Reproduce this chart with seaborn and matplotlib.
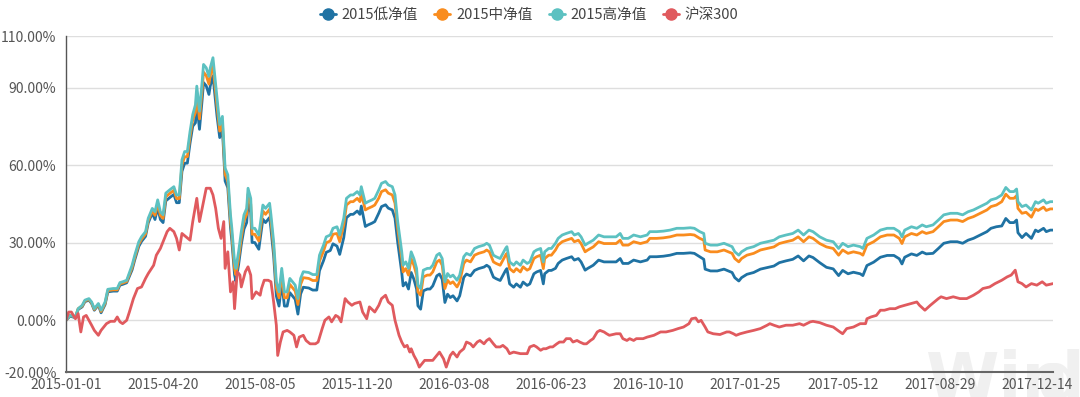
import matplotlib
matplotlib.use("Agg")
import matplotlib.pyplot as plt
from matplotlib.lines import Line2D
import seaborn as sns
import pandas as pd

# ---------------- data (trading-day index, cumulative return %) ----------------
series_names = ["2015低净值", "2015中净值", "2015高净值", "沪深300"]
colors = ["#1f72a3", "#f98c1e", "#5cc1c1", "#e05a5e"]

fund_day = [0, 3, 7, 9, 12, 14, 17, 19, 21, 24, 26, 29, 31, 35, 38, 40, 42, 45, 49, 51, 54, 56, 59, 61, 64,
            66, 68, 70, 72, 74, 77, 80, 82, 84, 86, 88, 90, 92, 94, 96, 97, 99, 101, 102, 104, 106, 107, 109,
            110, 112, 114, 116, 117, 118, 120, 122, 123, 125, 126, 128, 130, 132, 134, 135, 137, 138, 140, 143,
            144, 146, 148, 151, 152, 154, 156, 158, 160, 162, 164, 166, 170, 172, 174, 176, 180, 183, 186, 188,
            191, 193, 196, 198, 201, 203, 206, 208, 211, 213, 216, 218, 219, 222, 224, 227, 229, 232, 234, 237,
            239, 242, 244, 246, 248, 249, 250, 252, 254, 256, 258, 260, 261, 263, 265, 268, 270, 272, 275, 277,
            279, 281, 283, 285, 287, 290, 292, 295, 297, 300, 303, 306, 310, 312, 314, 317, 319, 322, 326, 327,
            329, 332, 334, 337, 339, 342, 344, 347, 349, 352, 354, 355, 358, 360, 363, 365, 368, 371, 375, 377,
            380, 382, 385, 387, 391, 395, 399, 403, 408, 411, 413, 417, 421, 426, 431, 433, 438, 443, 448, 453,
            458, 463, 466, 470, 473, 474, 478, 483, 488, 494, 496, 499, 501, 505, 510, 515, 520, 525, 529, 534,
            539, 543, 547, 551, 554, 559, 564, 569, 573, 576, 580, 584, 589, 591, 594, 599, 604, 609, 614, 618,
            620, 622, 627, 631, 635, 638, 643, 647, 651, 656, 661, 665, 669, 673, 678, 683, 686, 690, 694, 697,
            700, 703, 705, 706, 709, 712, 716, 719, 721, 725, 727, 730, 732]

high_nav = [0.0, 1.9, 1.3, 4.5, 5.8, 7.8, 8.4, 7.1, 4.5, 6.5, 3.9, 7.1, 12.0, 12.3, 12.3, 14.6, 14.9, 15.5, 21.3,
            25.2, 30.4, 32.3, 34.3, 39.5, 43.3, 42.0, 46.6, 42.0, 40.8, 49.2, 50.5, 51.7, 48.5, 48.5, 62.1, 65.3,
            65.3, 73.1, 79.6, 83.4, 90.6, 80.9, 92.5, 99.0, 97.7, 94.4, 97.7, 101.6, 96.4, 86.0, 75.7, 78.9, 69.2,
            58.9, 56.3, 40.8, 35.6, 22.6, 20.1, 26.5, 34.3, 40.8, 43.3, 51.1, 47.2, 35.6, 35.6, 33.0, 36.9, 44.6,
            43.3, 45.3, 40.8, 30.4, 14.9, 11.0, 20.1, 11.0, 11.0, 16.2, 13.6, 8.4, 16.2, 18.8, 18.5, 17.7, 17.7,
            25.2, 29.1, 32.3, 33.0, 35.6, 36.2, 33.0, 39.5, 47.2, 48.5, 48.5, 49.8, 48.5, 51.7, 45.3, 45.9, 46.6,
            47.2, 50.5, 53.0, 53.7, 52.4, 51.7, 48.5, 38.2, 30.4, 26.5, 21.3, 22.6, 20.1, 26.5, 23.9, 20.1, 13.6,
            12.3, 19.4, 20.1, 20.1, 21.3, 25.2, 25.9, 23.9, 14.9, 18.1, 16.8, 17.5, 15.5, 17.5, 24.6, 25.9, 25.2,
            27.8, 28.5, 29.1, 29.8, 29.1, 25.2, 24.6, 23.9, 27.8, 28.5, 22.6, 21.3, 22.6, 21.3, 23.3, 22.0, 22.6,
            26.5, 27.2, 27.8, 22.6, 26.5, 27.8, 27.8, 29.8, 31.7, 33.0, 33.6, 34.3, 33.0, 33.6, 32.3, 29.1, 29.8,
            31.0, 33.0, 32.3, 32.3, 32.3, 33.6, 31.7, 31.7, 33.0, 32.3, 33.0, 34.3, 34.3, 34.5, 34.9, 35.6, 35.6,
            35.8, 35.6, 34.3, 33.6, 29.8, 29.1, 29.1, 29.8, 28.5, 26.5, 25.2, 26.5, 27.8, 28.5, 29.8, 30.4, 31.0,
            32.3, 33.0, 33.6, 34.9, 33.0, 34.9, 34.3, 32.3, 31.0, 30.4, 27.8, 29.8, 28.5, 29.1, 28.5, 27.8, 31.7,
            33.0, 34.9, 35.6, 35.6, 34.3, 32.3, 34.9, 36.2, 35.6, 36.9, 36.2, 36.9, 38.8, 40.8, 41.4, 41.4, 40.8,
            42.0, 42.7, 44.0, 45.3, 46.6, 47.2, 48.5, 51.4, 49.8, 49.8, 50.8, 45.9, 44.0, 44.6, 42.7, 45.9, 45.3,
            46.6, 45.3, 45.9, 45.9]

mid_nav = [0.0, 1.9, 1.3, 4.5, 5.5, 7.5, 8.1, 6.8, 4.2, 6.2, 3.4, 6.6, 11.5, 11.8, 11.8, 14.1, 14.4, 15.0, 20.4,
           24.3, 29.5, 31.4, 33.4, 38.6, 42.4, 40.6, 45.2, 40.6, 39.4, 47.8, 49.1, 50.3, 47.1, 47.1, 60.1, 63.3,
           63.3, 71.1, 77.6, 80.4, 87.6, 77.9, 89.5, 96.0, 94.7, 91.4, 94.7, 98.6, 93.4, 83.0, 73.2, 76.4, 66.7,
           56.4, 53.8, 38.3, 33.1, 20.1, 17.6, 24.0, 31.8, 38.5, 41.0, 48.8, 44.9, 33.3, 33.3, 30.7, 34.6, 42.3,
           41.0, 43.0, 38.5, 28.1, 12.6, 8.7, 17.8, 8.7, 8.7, 13.9, 11.3, 6.1, 13.9, 16.5, 16.2, 15.4, 15.4,
           22.9, 26.8, 30.0, 30.7, 33.3, 33.6, 30.4, 36.9, 44.6, 45.9, 45.9, 47.2, 45.9, 49.1, 42.7, 43.3, 44.0,
           44.6, 47.3, 49.8, 50.5, 49.2, 48.5, 45.3, 35.6, 27.8, 23.9, 18.7, 20.0, 17.5, 23.9, 21.3, 17.5, 11.0,
           9.7, 16.8, 17.5, 17.5, 18.7, 22.6, 23.3, 21.3, 12.3, 15.5, 14.2, 14.9, 12.9, 14.9, 22.0, 23.3, 22.6,
           25.2, 25.9, 26.5, 27.2, 26.5, 22.6, 22.0, 21.3, 25.2, 25.9, 20.0, 18.7, 20.0, 18.7, 20.7, 19.4, 20.0,
           23.9, 24.6, 25.2, 20.0, 23.9, 25.2, 25.2, 27.2, 29.1, 30.4, 31.0, 31.7, 30.4, 31.0, 29.7, 26.5, 27.2,
           28.4, 30.4, 29.7, 29.7, 29.7, 31.0, 29.1, 29.1, 30.4, 29.7, 30.4, 31.7, 31.7, 31.9, 32.3, 33.0, 33.0,
           33.2, 33.0, 31.7, 31.0, 27.2, 26.5, 26.5, 27.2, 25.9, 23.9, 22.6, 23.9, 25.2, 25.9, 27.2, 27.8, 28.4,
           29.7, 30.4, 31.0, 32.3, 30.4, 32.3, 31.7, 29.7, 28.4, 27.8, 25.2, 27.2, 25.9, 26.5, 25.9, 25.2, 29.1,
           30.4, 32.3, 33.0, 33.0, 31.7, 29.7, 32.3, 33.6, 33.0, 34.3, 33.6, 34.3, 36.2, 38.2, 38.8, 38.8, 38.2,
           39.4, 40.1, 41.4, 42.7, 44.0, 44.6, 45.9, 48.8, 47.2, 47.2, 48.2, 43.3, 41.4, 41.8, 39.9, 43.1, 42.5,
           43.8, 42.5, 43.1, 43.1]

low_nav = [0.0, 1.6, 1.0, 4.2, 5.2, 7.2, 7.8, 6.5, 3.9, 5.9, 2.9, 6.1, 11.0, 11.3, 11.3, 13.6, 13.9, 14.5, 19.5,
           23.4, 28.6, 30.5, 32.5, 37.7, 41.5, 39.0, 43.6, 39.0, 37.8, 46.2, 47.5, 48.7, 45.5, 45.5, 57.6, 60.8,
           60.8, 68.6, 75.1, 76.4, 83.6, 73.9, 85.5, 92.0, 90.7, 87.4, 90.7, 94.6, 89.4, 79.0, 70.7, 73.9, 64.2,
           53.9, 51.3, 35.8, 30.6, 17.6, 15.1, 21.5, 29.3, 35.3, 37.8, 45.6, 41.7, 30.1, 30.1, 27.5, 31.4, 39.1,
           37.8, 39.8, 35.3, 24.9, 9.4, 5.5, 14.6, 5.5, 5.5, 10.7, 8.1, 2.4, 10.2, 12.8, 12.5, 11.7, 11.7,
           19.2, 23.1, 26.3, 27.0, 29.6, 28.7, 25.5, 32.0, 39.7, 41.0, 41.0, 42.3, 41.0, 44.2, 36.3, 36.9, 37.6,
           38.2, 41.5, 44.0, 44.7, 43.4, 42.7, 39.5, 30.2, 22.4, 18.5, 13.3, 14.6, 12.1, 18.5, 15.9, 12.1, 5.6,
           4.3, 11.4, 12.1, 12.1, 13.3, 17.2, 17.9, 15.9, 6.9, 10.1, 8.8, 9.5, 7.5, 9.5, 16.6, 17.9, 17.2,
           19.3, 20.0, 20.6, 21.3, 20.6, 16.7, 16.1, 15.4, 19.3, 20.0, 14.1, 12.8, 14.1, 12.8, 14.8, 13.5, 14.1,
           18.0, 18.7, 19.3, 14.1, 18.0, 19.3, 19.3, 20.1, 22.0, 23.3, 23.9, 24.6, 23.3, 23.9, 22.6, 19.4, 20.1,
           21.3, 23.3, 22.6, 22.6, 22.6, 23.9, 22.0, 22.0, 23.3, 22.6, 23.3, 24.6, 24.6, 24.8, 25.2, 25.9, 25.9,
           26.1, 25.9, 24.6, 23.6, 19.8, 19.1, 19.1, 19.8, 18.5, 16.5, 15.2, 16.5, 17.8, 18.5, 19.8, 20.4, 21.0,
           22.3, 23.0, 23.6, 24.9, 23.0, 24.9, 24.3, 22.3, 20.5, 19.9, 17.3, 19.3, 18.0, 18.6, 18.0, 17.3, 21.2,
           22.5, 24.4, 25.1, 25.1, 23.8, 21.8, 24.4, 25.7, 25.1, 26.4, 25.7, 25.9, 27.8, 29.8, 30.4, 30.4, 29.8,
           31.0, 31.7, 33.0, 34.3, 35.6, 36.2, 36.5, 39.4, 37.8, 37.8, 38.8, 33.9, 32.0, 33.6, 31.7, 34.9, 34.3,
           35.6, 34.3, 34.9, 34.9]

hs300_day = [0, 2, 4, 7, 9, 11, 13, 15, 19, 21, 24, 26, 30, 33, 36, 38, 40, 42, 45, 47, 50, 53, 56, 59, 61, 65,
             67, 70, 72, 75, 77, 80, 82, 84, 86, 89, 92, 94, 97, 99, 102, 104, 107, 109, 111, 113, 115, 117, 118,
             120, 122, 124, 125, 127, 129, 130, 133, 135, 137, 138, 141, 144, 145, 147, 150, 152, 154, 156, 157,
             159, 161, 164, 166, 169, 171, 173, 176, 178, 181, 185, 187, 190, 192, 195, 197, 200, 202, 204, 207,
             209, 212, 214, 218, 220, 223, 225, 229, 232, 234, 237, 239, 242, 244, 247, 249, 251, 253, 255, 256,
             258, 260, 262, 264, 266, 270, 272, 275, 277, 280, 282, 285, 287, 290, 292, 295, 297, 300, 302, 305,
             307, 310, 312, 314, 317, 319, 322, 324, 327, 329, 332, 337, 342, 344, 347, 349, 352, 354, 356, 359,
             361, 364, 366, 369, 371, 374, 376, 379, 381, 384, 386, 389, 391, 394, 396, 399, 401, 403, 408, 411,
             413, 416, 418, 421, 423, 428, 431, 436, 441, 445, 450, 454, 458, 462, 464, 467, 469, 471, 474, 476,
             480, 485, 490, 492, 495, 497, 500, 505, 510, 515, 520, 522, 525, 529, 534, 539, 544, 547, 552, 554,
             559, 564, 569, 574, 576, 579, 584, 589, 593, 594, 597, 601, 604, 607, 611, 615, 618, 622, 627, 631,
             633, 637, 641, 644, 647, 649, 653, 658, 663, 668, 673, 677, 680, 685, 689, 694, 698, 701, 704, 706,
             709, 712, 716, 720, 724, 727, 732]

hs300 = [0.0, 3.2, 3.2, 0.6, 2.6, -4.5, 1.3, 1.9, -1.9, -3.9, -5.8, -3.9, -1.3, -0.4, -0.4, 1.3, -0.6, -1.3,
         0.0, 3.2, 8.4, 12.3, 12.9, 16.2, 18.1, 21.3, 25.2, 27.8, 30.4, 34.3, 35.6, 34.3, 31.7, 27.2, 33.6, 32.3,
         31.0, 38.2, 47.2, 38.2, 45.9, 51.1, 51.1, 48.5, 43.3, 35.6, 31.7, 38.2, 20.1, 26.5, 11.0, 14.9, 4.5,
         18.8, 17.5, 12.9, 18.8, 20.7, 17.5, 8.4, 11.0, 9.7, 12.3, 15.5, 15.5, 14.9, 7.1, -1.9, -13.6, -8.4,
         -4.5, -3.9, -4.5, -5.8, -10.3, -6.5, -5.8, -7.8, -9.1, -9.1, -8.4, -3.2, 0.0, 1.3, -0.6, 1.9, 1.3,
         -0.6, 8.4, 7.1, 5.8, 6.5, 7.1, 3.2, 0.6, 5.2, 3.2, 5.8, 8.4, 9.7, 7.1, 5.8, 0.0, -5.8, -8.4, -10.3,
         -9.7, -12.3, -11.0, -13.6, -15.5, -18.1, -16.8, -15.5, -15.5, -15.5, -13.6, -12.3, -14.9, -18.1, -13.6,
         -12.3, -14.2, -12.3, -11.0, -8.4, -9.1, -10.3, -8.4, -7.8, -9.1, -7.8, -7.1, -9.1, -10.3, -10.3, -9.7,
         -11.0, -12.9, -12.3, -12.9, -12.9, -10.3, -9.7, -10.3, -11.6, -11.0, -11.0, -10.3, -10.3, -9.1, -8.4,
         -8.4, -7.1, -7.1, -8.4, -7.8, -8.4, -9.1, -9.1, -7.8, -7.1, -4.5, -3.9, -4.5, -5.2, -5.8, -5.2, -5.2,
         -7.1, -7.8, -7.1, -7.8, -7.1, -7.1, -6.5, -5.8, -4.5, -4.5, -3.9, -3.2, -2.6, -1.3, 0.6, 0.9, -0.6,
         0.0, -2.6, -4.5, -5.2, -5.5, -4.5, -4.5, -5.2, -5.8, -5.2, -4.5, -3.9, -3.2, -1.9, -1.3, -1.9, -2.6,
         -1.9, -1.9, -1.3, -1.9, -0.6, -0.4, -0.9, -1.9, -2.6, -4.5, -5.2, -3.2, -2.6, -1.3, -1.3, 0.6, 1.3,
         1.9, 3.9, 3.9, 4.5, 4.5, 5.2, 5.8, 6.5, 7.1, 5.8, 3.9, 5.8, 7.1, 8.4, 9.1, 8.4, 9.1, 8.4, 8.4, 9.7,
         11.0, 12.3, 12.9, 14.2, 15.5, 16.8, 17.5, 19.4, 14.9, 14.2, 12.9, 14.2, 13.6, 14.9, 13.6, 14.2]

tick_days = [0, 72, 144, 216, 288, 360, 432, 504, 576, 648, 720]
tick_labels = ["2015-01-01", "2015-04-20", "2015-08-05", "2015-11-20", "2016-03-08", "2016-06-23",
               "2016-10-10", "2017-01-25", "2017-05-12", "2017-08-29", "2017-12-14"]
y_ticks = [-20, 0, 30, 60, 90, 110]
last_day = 732

# ---------------- build long table ----------------
frames = []
for name, d, v in [(series_names[0], fund_day, low_nav),
                   (series_names[1], fund_day, mid_nav),
                   (series_names[2], fund_day, high_nav),
                   (series_names[3], hs300_day, hs300)]:
    frames.append(pd.DataFrame({"day": d, "value": v, "series": name}))
df = pd.concat(frames, ignore_index=True)

# ---------------- plot ----------------
sns.set_theme(style="white")
plt.rcParams["font.family"] = ["Noto Sans CJK SC", "DejaVu Sans"]

fig = plt.figure(figsize=(10.8, 3.97), dpi=100)

# faint watermark, drawn behind the axes
wm_font = ["Liberation Sans Narrow", "DejaVu Sans"]
fig.text(925 / 1080, -0.01, "Win", fontsize=48, color="#f0f0f0", fontweight="bold",
         family=wm_font, va="baseline", ha="left", zorder=-5)
fig.text(1037 / 1080, -0.01, "d", fontsize=48, color="#f0f0f0", fontweight="bold",
         family=wm_font, va="baseline", ha="left", zorder=-5)

ax = fig.add_axes([66 / 1080, 1 - 372 / 397, (1053 - 66) / 1080, (372 - 36) / 397])
ax.patch.set_alpha(0)

sns.lineplot(data=df, x="day", y="value", hue="series", hue_order=series_names,
             palette=colors, linewidth=2.0, estimator=None, sort=True, legend=False, ax=ax)

ax.set_xlim(0, last_day)
ax.set_ylim(-20, 110)
ax.set_xticks(tick_days)
ax.set_xticklabels(tick_labels)
ax.set_yticks(y_ticks)
ax.set_yticklabels([f"{t:.2f}%" for t in y_ticks])
ax.set_xlabel("")
ax.set_ylabel("")
ax.tick_params(axis="both", length=0, labelsize=10, labelcolor="#555555")
ax.tick_params(axis="x", pad=4)
ax.tick_params(axis="y", pad=7)
for t in y_ticks[1:]:
    ax.axhline(t, color="#dedede", linewidth=1.0, zorder=0)
for s in ["top", "right"]:
    ax.spines[s].set_visible(False)
ax.spines["left"].set_color("#555555")
ax.spines["left"].set_linewidth(1.0)
ax.spines["bottom"].set_color("#666666")
ax.spines["bottom"].set_linewidth(1.5)

handles = [Line2D([0], [0], color=c, marker="o", markersize=8, linewidth=2.0) for c in colors]
fig.legend(handles, series_names, loc="center", bbox_to_anchor=(0.49, 0.962), ncol=4, frameon=False,
           fontsize=10.5, handlelength=1.1, handletextpad=0.4, columnspacing=1.1,
           labelcolor="#444444")

fig.savefig("out.png", dpi=100)
